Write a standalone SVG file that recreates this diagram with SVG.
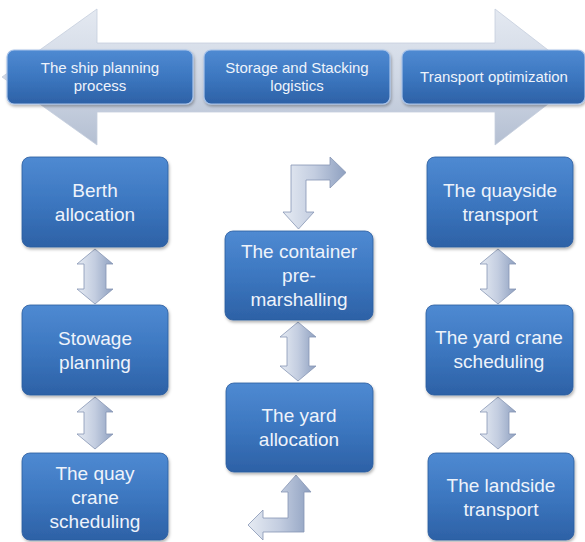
<svg xmlns="http://www.w3.org/2000/svg" width="585" height="542" viewBox="0 0 585 542">
<defs>
<linearGradient id="boxg" x1="0" y1="0" x2="0" y2="1">
<stop offset="0" stop-color="#4f8ad2"/>
<stop offset="0.5" stop-color="#3c77c0"/>
<stop offset="1" stop-color="#2d61a6"/>
</linearGradient>
<linearGradient id="arrg" x1="0" y1="0" x2="1" y2="0">
<stop offset="0" stop-color="#e6ebf3"/>
<stop offset="0.5" stop-color="#c3cde0"/>
<stop offset="1" stop-color="#8ea0c0"/>
</linearGradient>
<linearGradient id="bgg" x1="0" y1="0" x2="0" y2="1">
<stop offset="0" stop-color="#e4e9f1"/>
<stop offset="0.5" stop-color="#d0d8e5"/>
<stop offset="1" stop-color="#b4bfd2"/>
</linearGradient>
<filter id="sh" x="-10%" y="-10%" width="125%" height="130%">
<feDropShadow dx="1" dy="2" stdDeviation="1.5" flood-color="#000" flood-opacity="0.3"/>
</filter>
</defs>
<style>
.box{fill:url(#boxg);stroke:#2c5d9e;stroke-width:0.8;filter:url(#sh)}
.top{fill:url(#boxg);stroke:#a9c4ea;stroke-width:1.2;filter:url(#sh)}
.t{font-family:"Liberation Sans",Arial,sans-serif;font-size:19px;fill:#eef3fb;text-anchor:middle}
.ts{font-family:"Liberation Sans",Arial,sans-serif;font-size:15px;fill:#eef3fb;text-anchor:middle}
.arr{fill:url(#arrg);stroke:#8696b4;stroke-width:0.8}
</style>
<path id="bgarrow" d="M2,77 L97,9 L97,43 L495,43 L495,9 L583,77 L495,145 L495,112 L97,112 L97,145 Z" fill="url(#bgg)" stroke="#c5cedd" stroke-width="0.8"/>
<g id="connectors">
<path class="arr" d="M95,249 L113,264 L106,264 L106,289 L113,289 L95,304 L77,289 L84,289 L84,264 L77,264 Z"/>
<path class="arr" d="M95,397 L113,412 L106,412 L106,434 L113,434 L95,449 L77,434 L84,434 L84,412 L77,412 Z"/>
<path class="arr" d="M298,322 L316,337 L309,337 L309,366 L316,366 L298,381 L280,366 L287,366 L287,337 L280,337 Z"/>
<path class="arr" d="M498,249 L516,264 L509,264 L509,289 L516,289 L498,304 L480,289 L487,289 L487,264 L480,264 Z"/>
<path class="arr" d="M498,397 L516,412 L509,412 L509,434 L516,434 L498,449 L480,434 L487,434 L487,412 L480,412 Z"/>
<path class="arr" d="M291,165 L330,165 L330,157 L346,172.5 L330,188 L330,180 L306,180 L306,212 L314,212 L298.5,229 L283,212 L291,212 Z"/>
<path class="arr" d="M296,475 L311,492 L304,492 L304,532 L263,532 L263,540 L248,525 L263,510 L263,518 L288,518 L288,492 L281,492 Z"/>
</g>
<g id="ship"><rect class="top" x="7" y="50" width="186" height="54" rx="7"/><text class="ts" x="100" y="73">The ship planning</text><text class="ts" x="100" y="91">process</text></g>
<g id="storage"><rect class="top" x="204" y="50" width="186" height="54" rx="7"/><text class="ts" x="297" y="73">Storage and Stacking</text><text class="ts" x="297" y="91">logistics</text></g>
<g id="transport"><rect class="top" x="402" y="50" width="183" height="54" rx="7"/><text class="ts" x="494" y="82">Transport optimization</text></g>
<g id="berth"><rect class="box" x="22" y="157" width="146" height="90" rx="8"/><text class="t" x="95" y="197">Berth</text><text class="t" x="95" y="221">allocation</text></g>
<g id="stowage"><rect class="box" x="22" y="305" width="146" height="90" rx="8"/><text class="t" x="95" y="345">Stowage</text><text class="t" x="95" y="369">planning</text></g>
<g id="quay"><rect class="box" x="22" y="453" width="146" height="87" rx="8"/><text class="t" x="95" y="480">The quay</text><text class="t" x="95" y="504">crane</text><text class="t" x="95" y="528">scheduling</text></g>
<g id="premarsh"><rect class="box" x="225" y="231" width="148" height="89" rx="8"/><text class="t" x="299" y="258">The container</text><text class="t" x="299" y="282">pre-</text><text class="t" x="299" y="306">marshalling</text></g>
<g id="yardalloc"><rect class="box" x="226" y="383" width="147" height="89" rx="8"/><text class="t" x="299" y="422">The yard</text><text class="t" x="299" y="446">allocation</text></g>
<g id="quayside"><rect class="box" x="427" y="157" width="146" height="90" rx="8"/><text class="t" x="500" y="197">The quayside</text><text class="t" x="500" y="221">transport</text></g>
<g id="yardcrane"><rect class="box" x="426" y="305" width="147" height="90" rx="8"/><text class="t" x="499" y="344">The yard crane</text><text class="t" x="499" y="368">scheduling</text></g>
<g id="landside"><rect class="box" x="428" y="453" width="146" height="87" rx="8"/><text class="t" x="501" y="492">The landside</text><text class="t" x="501" y="516">transport</text></g>
</svg>
